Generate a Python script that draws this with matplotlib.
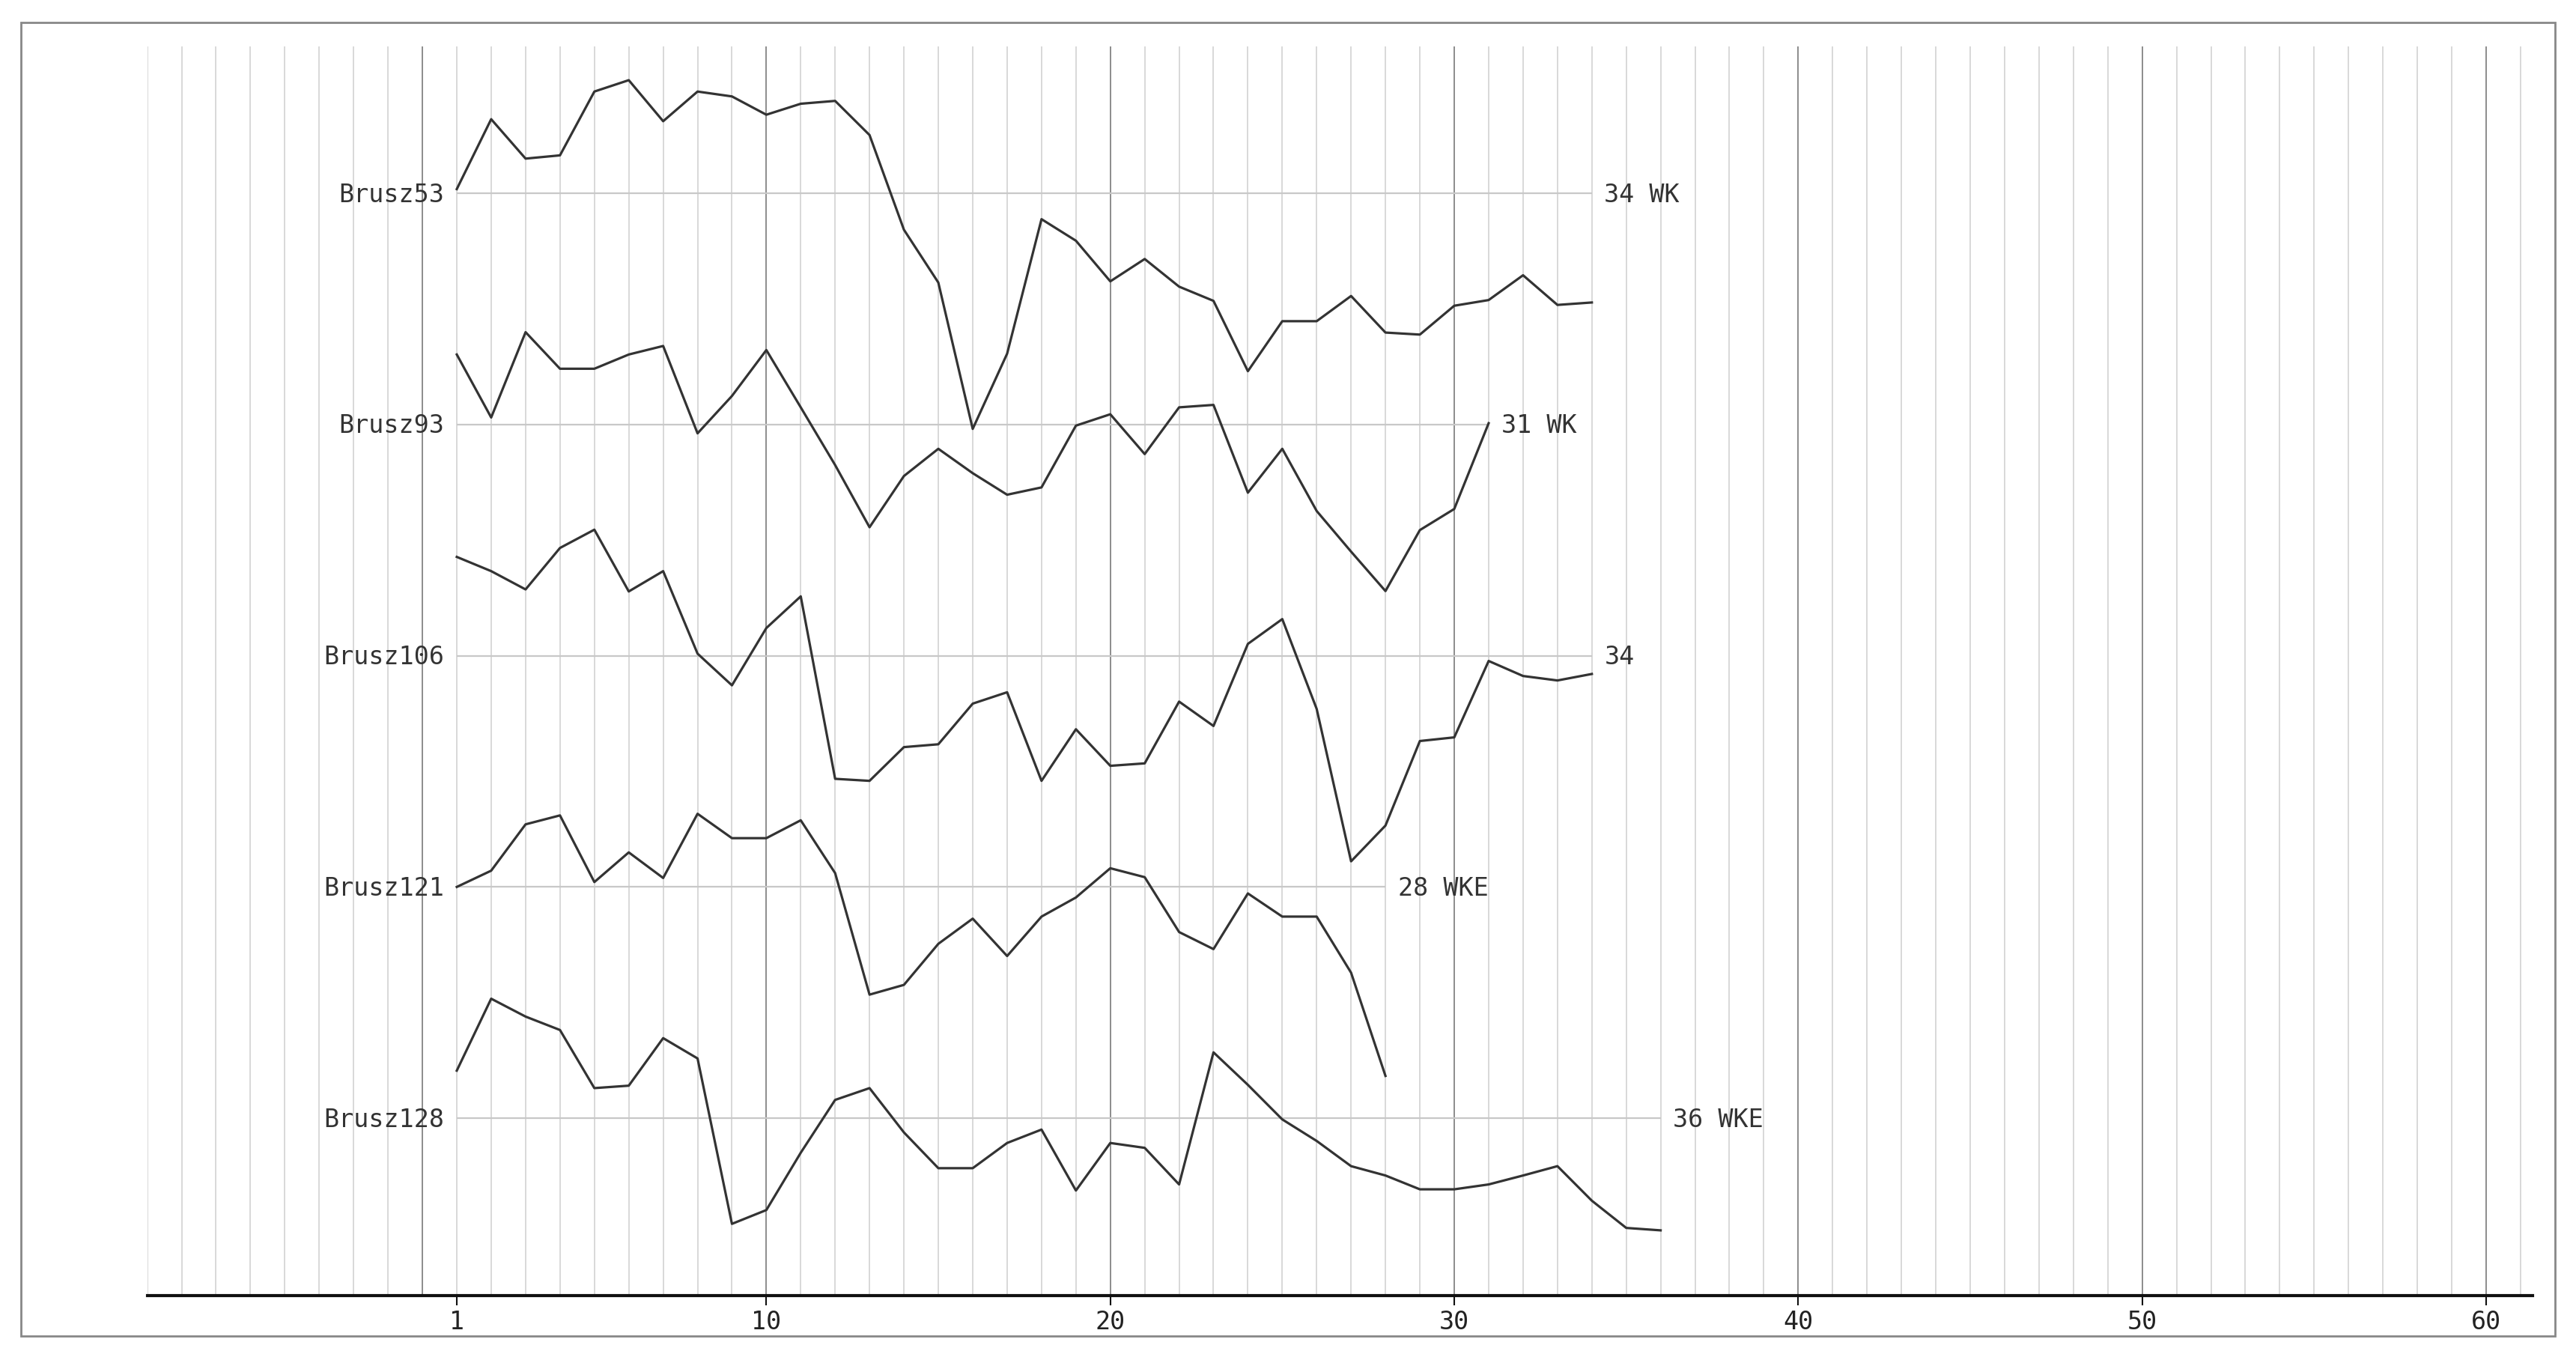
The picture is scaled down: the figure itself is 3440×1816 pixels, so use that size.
import matplotlib
matplotlib.use('Agg')
import matplotlib.pyplot as plt
from matplotlib.patches import Rectangle

# ---- data (deviation from each series' baseline, arbitrary units) ----
series_names = ['Brusz53', 'Brusz93', 'Brusz106', 'Brusz121', 'Brusz128']
end_labels = ['34 WK', '31 WK', '34', '28 WKE', '36 WKE']

brusz53 = [10, 182, 85, 93, 250, 278, 177, 250, 238, 193, 220, 227, 143, -90, -220,
           -580, -395, -64, -117, -217, -162, -230, -265, -438, -315, -315, -253,
           -343, -348, -277, -263, -202, -275, -269]
brusz93 = [172, 17, 227, 137, 137, 172, 193, -22, 70, 183, 42, -100, -253, -127, -60,
           -120, -173, -155, -3, 25, -73, 42, 48, -168, -60, -213, -313, -410, -260,
           -208, 3]
brusz106 = [243, 208, 163, 265, 310, 158, 208, 5, -73, 68, 146, -303, -308, -225, -218,
            -118, -90, -308, -181, -271, -265, -113, -173, 29, 90, -131, -506, -418,
            -210, -201, -13, -50, -61, -45]
brusz121 = [0, 40, 154, 176, 12, 85, 22, 180, 120, 120, 164, 34, -265, -241, -140,
            -78, -170, -73, -26, 46, 24, -111, -153, -16, -73, -73, -211, -465]
brusz128 = [117, 294, 250, 217, 74, 80, 197, 147, -260, -226, -85, 45, 74, -35, -123,
            -123, -61, -28, -178, -61, -73, -163, 162, 82, -3, -56, -118, -141, -175,
            -175, -163, -141, -118, -203, -270, -276]

tick_values = [1, 10, 20, 30, 40, 50, 60]

all_series = [brusz53, brusz93, brusz106, brusz121, brusz128]
spacing = 569
baselines = [spacing * (len(all_series) - 1 - k) for k in range(len(all_series))]

# ---- figure ----
W, H = 3440, 1816
fig = plt.figure(figsize=(W / 100, H / 100), dpi=100)
fig.patch.set_facecolor('white')

ax_left, ax_right, ax_top, ax_bottom = 196.6, 3382, 62, 1730
ax = fig.add_axes([ax_left / W, 1 - ax_bottom / H,
                   (ax_right - ax_left) / W, (ax_bottom - ax_top) / H])
xmin, xmax = -8, 61.35
ymin, ymax = -436.5, baselines[0] + 361
ax.set_xlim(xmin, xmax)
ax.set_ylim(ymin, ymax)

font = 'DejaVu Sans Mono'

# vertical grid
minor = [v for v in range(-8, 62) if v % 10 != 0]
major = [v for v in range(-8, 62) if v % 10 == 0]
ax.vlines(minor, ymin, ymax, colors='#d6d6d6', lw=1.3, zorder=0)
ax.vlines(major, ymin, ymax, colors='#8c8c8c', lw=1.4, zorder=0.5)

for name, endlab, vals, base in zip(series_names, end_labels, all_series, baselines):
    n = len(vals)
    xs = list(range(1, n + 1))
    ax.hlines(base, 1, n, colors='#c8c8c8', lw=1.6, zorder=1)
    ax.plot(xs, [base + v for v in vals], color='#333333', lw=2.3, zorder=3)
    ax.annotate(name, (1, base), xytext=(-12, 1), textcoords='offset points',
                ha='right', va='center_baseline', fontsize=24, family=font,
                color='#333333')
    ax.annotate(endlab, (n, base), xytext=(12, 1), textcoords='offset points',
                ha='left', va='center_baseline', fontsize=24, family=font,
                color='#333333')

for s in ['left', 'right', 'top']:
    ax.spines[s].set_visible(False)
ax.spines['bottom'].set_linewidth(3.0)
ax.spines['bottom'].set_color('#111111')
ax.set_yticks([])
ax.set_xticks(tick_values)
ax.set_xticklabels([str(t) for t in tick_values], family=font, fontsize=24,
                   color='#222222')
ax.tick_params(axis='x', direction='out', length=9, width=1.5, color='#111111', pad=5)
ax.set_facecolor('white')

# outer frame
fig.patches.append(Rectangle((28 / W, 1 - 1784 / H), (3412 - 28) / W, (1784 - 30) / H,
                             transform=fig.transFigure, fill=False,
                             edgecolor='#888888', lw=2))

fig.savefig('out.png', dpi=100, facecolor='white')
